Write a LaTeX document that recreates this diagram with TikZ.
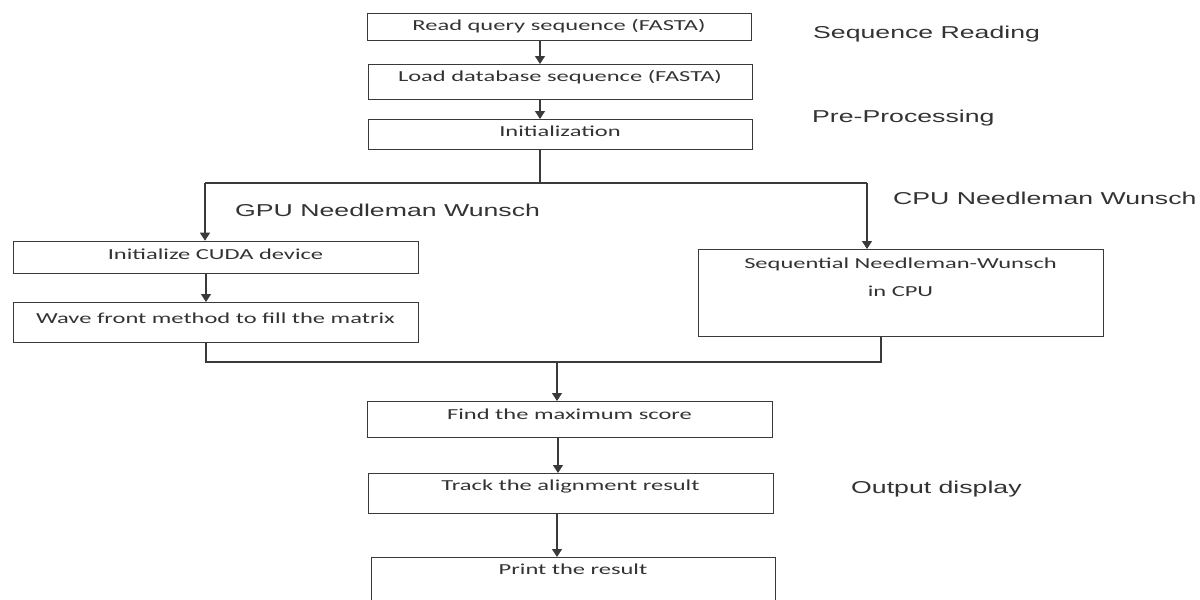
\documentclass[tikz,border=0pt]{standalone}
\usepackage{fontspec}
\newfontfamily\boxfont{Carlito}[FakeStretch=1.6]
\newfontfamily\labfont{Liberation Sans}[FakeStretch=1.55]
\usetikzlibrary{arrows.meta,calc}
\definecolor{ln}{HTML}{3A3A3A}
\definecolor{tx}{HTML}{333333}
\tikzset{
  box/.style={draw=ln, line width=1.3pt, inner sep=0pt, anchor=north west},
  btext/.style={anchor=base, inner sep=0pt, text=tx, font=\boxfont\fontsize{15.3}{18}\selectfont},
  lab/.style={anchor=base west, inner sep=0pt, text=tx, font=\labfont\fontsize{17.2}{20}\selectfont},
  conn/.style={draw=ln, line width=1.3pt},
  arr/.style={conn, -{Triangle[length=8pt,width=10pt]}}
}
\begin{document}
\begin{tikzpicture}[x=1pt,y=-1pt]
\useasboundingbox (0,0) rectangle (1200,600);
\clip (0,0) rectangle (1200,600);
% boxes
\node[box, minimum width=384pt, minimum height=27.3pt] (b1) at (367,12.7) {};
\node[box, minimum width=384pt, minimum height=35pt] (b2) at (368,64) {};
\node[box, minimum width=384pt, minimum height=30pt] (b3) at (368,119) {};
\node[box, minimum width=405pt, minimum height=32.3pt] (g1) at (13,240.7) {};
\node[box, minimum width=405pt, minimum height=40pt] (g2) at (13,302) {};
\node[box, minimum width=405pt, minimum height=87pt] (cpu) at (698,249) {};
\node[box, minimum width=405pt, minimum height=36pt] (find) at (367,401) {};
\node[box, minimum width=405pt, minimum height=40pt] (track) at (368,473) {};
\node[box, minimum width=404pt, minimum height=60pt] (print) at (371,557) {};
% box texts
\node[btext] (t1) at (559,30) {Read query sequence (FASTA)};
\node[btext] (t2) at (560,81.7) {Load database sequence (FASTA)};
\node[btext] (t3) at (560,136.7) {Initialization};
\node[btext] (t4) at (215.5,259.3) {Initialize CUDA device};
\node[btext] (t5) at (215.5,323.3) {Wave front method to fill the matrix};
\node[btext] (t6) at (900.5,268.3) {Sequential Needleman-Wunsch};
\node[btext] (t7) at (900.5,296.7) {in CPU};
\node[btext] (t8) at (569.5,419.3) {Find the maximum score};
\node[btext] (t9) at (570.5,490.7) {Track the alignment result};
\node[btext] (t10) at (573,574) {Print the result};
% side labels
\node[lab] (l1) at (813,38.7) {Sequence Reading};
\node[lab] (l2) at (812,122) {Pre-Processing};
\node[lab] (l3) at (235,216.7) {GPU Needleman Wunsch};
\node[lab] (l4) at (893,204) {CPU Needleman Wunsch};
\node[lab] (l5) at (851,493) {Output display};
% connector coordinates
\coordinate (xa) at (540,0);
\coordinate (split) at (540,183);
\coordinate (sl) at (205,183);
\coordinate (sr) at (867,183);
\coordinate (jl) at (206,362);
\coordinate (jr) at (881,362);
\coordinate (jm) at (557,362);
\coordinate (xb) at (558,0);
% connectors
\draw[arr] (xa |- b1.south) -- (xa |- b2.north);
\draw[arr] (xa |- b2.south) -- (xa |- b3.north);
\draw[conn] (xa |- b3.south) -- (split);
\draw[conn] (sl) -- (sr);
\draw[arr] (sl) -- (sl |- g1.north);
\draw[arr] (sr) -- (sr |- cpu.north);
\draw[arr] (jl |- g1.south) -- (jl |- g2.north);
\draw[conn] (jl |- g2.south) -- (jl) -- (jr) -- (jr |- cpu.south);
\draw[arr] (jm) -- (jm |- find.north);
\draw[arr] (xb |- find.south) -- (xb |- track.north);
\draw[arr] (jm |- track.south) -- (jm |- print.north);
\end{tikzpicture}
\end{document}
